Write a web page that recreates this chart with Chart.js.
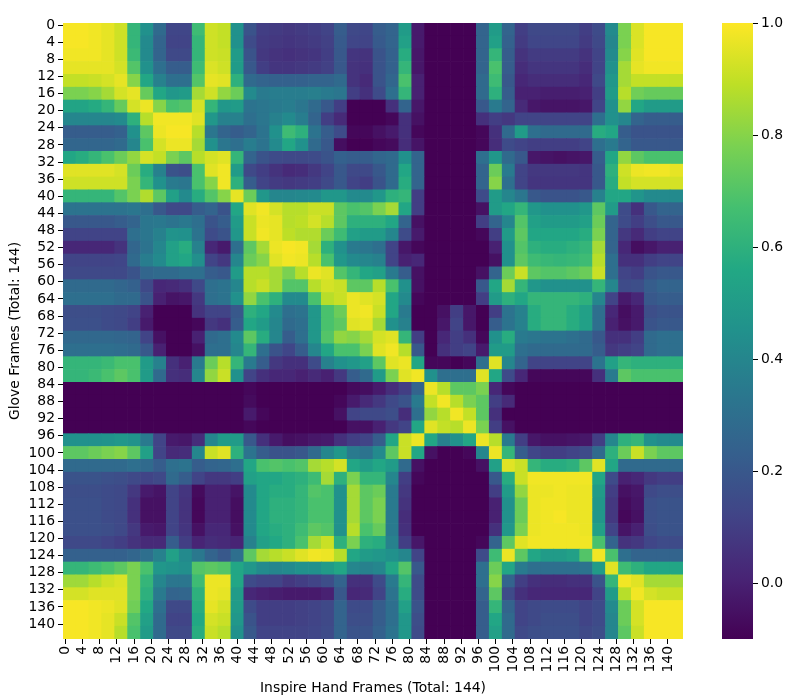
<!DOCTYPE html>
<html>
<head>
<meta charset="utf-8">
<script src="https://cdn.jsdelivr.net/npm/chart.js@4"></script>
<style>
  body { margin: 0; background: #fff; }
  canvas { position: absolute; top: 0; }
  #heatmap { left: 0; }
  #colorbar { left: 700px; }
</style>
</head>
<body>
<canvas id="heatmap" width="700" height="699"></canvas>
<canvas id="colorbar" width="97" height="699"></canvas>
<script>
// similarity, in hundredths, one row per 3 frames
const similarity = [
  [99,99,98,96,92,62,45,28,13,13,65,92,90,45, 18,10,9,8,9,10,12,22,14,13,22,25,50,-2, -10,-10,-10,-10, 25,50,25,10,14,14,14,14,10,15,42,78,94,99,99,99],
  [99,99,98,96,92,62,42,25,12,12,62,92,90,45, 15,9,8,7,8,9,11,21,13,12,21,25,52,-2, -10,-10,-10,-10, 25,52,24,9,13,13,13,13,9,14,40,78,94,99,99,99],
  [98,98,98,96,92,64,42,25,14,14,62,92,91,50, 18,8,6,5,6,7,10,20,7,6,18,24,58,-3, -10,-10,-10,-10, 25,62,22,6,9,9,9,9,6,12,42,80,95,99,99,99],
  [96,96,96,96,93,70,45,30,22,22,65,94,92,50, 20,10,7,7,8,9,11,20,6,5,18,24,62,-3, -10,-10,-10,-10, 25,68,22,4,7,7,7,7,4,12,45,85,96,98,98,98],
  [90,90,91,93,96,80,55,38,30,30,70,96,95,60, 28,25,24,24,24,25,25,28,6,3,18,26,68,0, -10,-10,-10,-10, 28,65,20,2,4,4,4,4,2,14,48,85,90,90,90,90],
  [78,78,80,85,93,96,74,55,48,50,85,92,82,75, 42,35,36,36,36,37,35,33,10,5,15,30,62,0, -10,-10,-10,-10, 28,60,22,0,0,-1,-1,-1,0,10,50,88,76,74,74,74],
  [54,54,57,62,74,93,97,80,68,70,93,62,48,50, 32,33,35,36,33,28,20,10,-10,-10,-10,5,25,-3, -10,-10,-10,-10, 20,35,25,3,-3,-4,-4,-4,-3,12,45,82,55,50,50,50],
  [40,40,40,40,42,60,88,98,98,98,95,48,38,38, 30,33,38,42,36,25,10,3,-10,-10,-10,-8,5,-5, -10,-10,-10,-10, 5,10,8,12,12,12,12,12,12,30,45,40,25,22,22,22],
  [22,22,22,22,24,45,72,97,99,99,88,33,25,22, 25,32,45,65,60,32,22,15,-8,-8,-5,-2,5,-8, -10,-10,-10,-10, -8,5,28,50,30,28,28,28,28,58,55,22,18,18,18,18],
  [26,26,26,26,28,40,68,93,97,97,85,45,33,30, 36,32,42,55,45,28,20,-6,-10,-10,-8,-7,4,-4, -10,-10,-10,-10, -8,4,15,12,10,10,10,10,12,30,35,25,20,20,20,20],
  [55,58,62,68,75,82,93,90,78,72,88,93,95,62, 25,18,15,14,14,15,18,24,22,22,26,28,45,25, -10,-10,-10,-10, 30,48,28,20,-3,-4,-5,-4,-3,22,55,82,72,68,68,68],
  [95,95,95,95,93,75,58,38,18,16,68,95,98,50, 14,10,6,3,4,8,12,20,14,14,20,28,55,25, -10,-10,-10,-10, 25,75,35,12,8,8,8,8,7,20,60,92,97,98,98,96],
  [92,92,92,92,92,78,62,45,35,33,68,80,98,60, 22,12,9,8,9,10,14,20,12,10,18,28,58,25, -10,-10,-10,-10, 25,80,30,12,7,7,7,7,7,20,58,90,93,93,93,93],
  [62,62,62,62,70,78,87,72,52,42,58,70,80,96, 75,48,40,40,41,42,48,48,42,42,48,60,62,10, -10,-10,-10,-10, 15,50,40,33,20,18,18,18,20,38,55,55,47,42,42,42],
  [32,32,32,32,32,33,30,20,14,14,22,25,18,55, 95,98,93,88,88,91,91,72,68,70,78,85,55,10, -10,-10,-10,-10, -5,50,55,62,48,45,45,45,48,72,50,15,5,20,25,25],
  [20,20,20,20,22,25,33,34,32,34,30,18,22,50, 91,97,96,88,89,93,88,72,60,60,60,55,25,-5, -10,-10,-10,-10, 10,25,40,70,52,50,50,50,52,75,25,15,10,16,20,20],
  [12,12,12,12,12,30,33,38,46,45,32,15,18,48, 91,98,96,89,87,87,75,65,52,50,50,40,15,-2, -10,-10,-10,-10, -8,10,50,72,55,55,55,55,58,78,25,8,3,10,12,12],
  [2,2,2,2,6,26,32,40,52,58,38,2,-2,30, 72,85,97,99,98,85,60,45,35,33,30,12,-3,-8, -10,-10,-10,-10, -10,0,45,70,60,58,58,60,62,85,25,2,-6,-3,0,0],
  [12,12,12,12,13,28,36,42,52,55,44,12,8,40, 75,80,95,98,97,88,68,48,42,40,38,12,0,2, -10,-10,-10,-10, -10,-5,45,72,65,63,62,63,65,88,30,5,5,10,12,12],
  [14,14,14,14,14,18,26,28,28,30,30,22,20,50, 88,88,85,78,88,97,95,70,62,55,52,35,22,-5, -10,-10,-10,-10, -5,25,75,91,72,70,70,72,75,91,30,12,10,18,20,20],
  [28,28,28,28,26,24,14,2,3,5,14,30,32,40, 88,91,85,70,70,88,93,91,72,72,88,68,45,-5, -10,-10,-10,-10, 20,55,85,62,48,45,45,45,45,62,40,15,16,22,25,25],
  [30,30,30,30,28,28,18,0,-4,-3,8,30,32,45, 82,68,60,42,42,68,88,91,97,95,93,55,42,-8, -10,-10,-10,-10, 10,50,60,55,62,62,62,62,60,40,12,-2,2,20,22,22],
  [16,16,16,15,14,12,0,-10,-10,-10,6,12,12,20, 60,55,42,30,32,48,68,75,97,98,91,55,35,-10, -10,-5,10,-3, -10,10,32,38,58,62,62,58,52,30,2,-6,-2,16,18,18],
  [17,17,17,15,14,10,-2,-10,-10,-10,-8,8,5,22, 55,50,40,28,30,48,68,72,95,96,85,45,38,-10, -10,-3,12,-3, -10,22,32,38,58,62,62,58,52,30,0,-5,-2,18,20,20],
  [27,27,27,27,26,25,12,-5,-10,-10,0,28,30,42, 72,58,40,22,30,48,70,82,80,85,93,95,62,10, -10,2,10,5, -8,45,58,35,33,32,32,30,28,20,5,5,10,28,30,30],
  [30,30,30,30,29,28,20,0,-10,-10,-5,30,30,40, 62,30,18,13,22,40,55,68,68,78,95,98,88,20, -10,5,10,12, -2,50,50,30,28,28,28,28,28,22,8,10,12,28,30,30],
  [62,62,62,64,68,68,50,38,5,0,35,75,88,62, 35,22,8,5,5,15,38,45,48,52,72,95,97,55, -8,-8,-10,-8, 30,95,40,25,12,12,12,12,12,32,52,62,60,60,60,60],
  [62,62,64,68,72,68,50,28,5,4,40,82,91,45, 12,5,2,2,0,3,0,8,22,28,50,78,95,98, 45,30,30,30, 95,55,15,2,-8,-8,-8,-8,-8,5,35,72,68,68,68,68],
  [-10,-10,-10,-10,-10,-10,-10,-10,-10,-10,-10,-10,-10,-10, -8,-10,-10,-10,-10,-10,-10,-10,-7,-6,-2,4,10,25, 97,88,72,72, 78,2,-8,-10,-10,-10,-10,-10,-10,-10,-10,-10,-10,-10,-10,-10],
  [-10,-10,-10,-10,-10,-10,-10,-10,-10,-10,-10,-10,-10,-10, -7,-10,-10,-10,-10,-10,-10,-8,-2,3,8,14,18,35, 90,98,88,78, 72,10,3,-10,-10,-10,-10,-10,-10,-10,-10,-10,-10,-10,-10,-10],
  [-10,-10,-10,-10,-10,-10,-10,-10,-10,-10,-10,-10,-10,-10, -2,-8,-10,-10,-10,-10,-10,-5,12,14,14,16,4,30, 82,88,98,90, 72,5,-10,-10,-10,-10,-10,-10,-10,-10,-10,-10,-10,-10,-10,-10],
  [-10,-10,-10,-10,-10,-10,-10,-10,-10,-10,-10,-10,-10,-10, -8,-10,-10,-10,-10,-10,-10,-10,-5,-5,0,8,12,55, 95,90,88,97, 78,10,-5,-10,-10,-10,-10,-10,-10,-10,-10,-10,-10,-10,-10,-10],
  [45,45,45,46,48,46,35,12,-2,-3,4,40,50,50, 20,5,-2,-6,-5,-3,-2,5,10,12,22,55,91,97, 55,38,45,55, 97,88,35,10,-3,-5,-5,-4,-3,10,40,60,62,45,42,42],
  [72,72,75,78,80,72,52,12,3,4,40,91,95,60, 32,22,18,18,20,28,40,48,35,32,42,72,91,55, -5,-10,-10,-8, 40,97,62,22,13,10,10,12,15,28,60,75,91,78,72,72],
  [28,28,28,28,28,30,28,22,30,32,22,25,26,30, 55,68,70,68,70,85,88,93,55,50,55,50,28,-5, -10,-10,-10,-10, -5,52,95,91,62,58,58,60,72,95,55,28,28,28,28,28],
  [18,18,18,17,16,14,12,14,28,22,12,8,8,10, 52,55,55,58,60,65,85,60,78,62,62,40,10,-8, -10,-10,-10,-10, -10,20,58,91,98,98,98,98,98,55,15,0,2,8,10,10],
  [16,16,16,15,14,8,-2,-4,12,7,-7,0,0,-4, 42,55,58,58,62,70,68,45,85,72,75,35,8,-10, -10,-10,-10,-10, -10,10,50,82,97,97,98,97,97,50,10,-5,-3,14,16,16],
  [17,17,17,15,14,5,-5,-5,12,6,-8,0,0,-6, 42,55,60,60,62,68,68,45,85,72,78,35,6,-10, -10,-10,-10,-10, -10,0,45,75,97,98,98,97,97,48,8,-7,-4,17,18,18],
  [17,17,17,15,14,5,-5,-5,12,6,-8,0,0,-6, 42,55,60,60,62,68,68,45,85,72,78,35,4,-10, -10,-10,-10,-10, -10,0,45,75,97,98,99,97,97,48,8,-8,-5,17,18,18],
  [17,17,17,16,14,8,-2,-3,12,7,-5,2,2,-5, 42,55,58,60,65,72,70,45,88,68,74,35,5,-10, -10,-10,-10,-10, -10,5,48,78,97,98,98,98,97,52,12,-4,0,16,18,18],
  [14,14,14,12,10,6,3,3,22,10,1,4,3,1, 38,52,56,60,68,85,91,60,78,60,58,38,10,-3, -10,-10,-10,-10, -8,25,72,95,98,98,98,98,98,68,25,6,8,13,15,15],
  [24,24,24,24,24,26,30,38,52,42,34,25,20,30, 72,85,88,91,95,98,97,88,55,50,48,45,40,12, -10,-10,-10,-10, 15,65,97,72,55,50,50,52,70,98,68,30,25,25,25,25],
  [62,62,65,68,72,78,68,48,46,44,70,72,70,55, 48,42,40,42,45,45,50,55,40,38,40,55,70,20, -10,-10,-10,-10, 30,75,55,35,30,30,30,30,32,50,95,65,60,55,55,55],
  [84,84,88,92,94,78,62,40,33,33,65,97,97,55, 15,12,12,8,10,12,16,25,5,5,15,35,62,15, -10,-10,-10,-10, 30,80,25,10,5,4,4,5,5,18,62,98,95,85,85,85],
  [93,93,95,95,95,78,60,35,25,26,60,97,96,50, 2,0,-1,-2,-2,-2,0,20,2,3,12,32,58,15, -10,-10,-10,-10, 25,72,15,5,2,2,2,2,2,12,50,88,98,93,91,91],
  [99,99,98,97,95,76,56,30,14,14,58,96,93,50, 15,10,10,10,11,12,14,25,15,15,22,30,52,18, -10,-10,-10,-10, 22,62,25,12,14,15,15,15,12,15,42,75,93,99,99,99],
  [99,99,98,96,91,70,52,28,12,12,56,93,91,48, 18,10,10,10,11,12,14,25,16,16,22,30,48,16, -10,-10,-10,-10, 22,55,28,12,14,16,16,16,12,15,40,75,93,99,99,99],
  [99,99,98,96,88,68,50,28,14,14,58,91,88,45, 20,12,12,12,12,13,15,25,18,18,24,32,48,15, -10,-10,-10,-10, 22,52,28,14,16,17,17,17,14,16,40,72,91,99,99,99]
];
const frameTicks = [0,4,8,12,16,20,24,28,32,36,40,44,48,52,56,60,64,68,72,76,80,84,88,92,96,100,104,108,112,116,120,124,128,132,136,140];
const colorbarTicks = [0, 0.2, 0.4, 0.6, 0.8, 1];
const viridis = ['#440154','#482475','#414487','#355f8d','#2a788e','#21918c','#22a884','#44bf70','#7ad151','#bddf26','#fde725'];

const vmin = -0.1;
const vmax = 1;
const cellFrames = 3;
const totalFrames = 144;
const tickFont = { family: '"DejaVu Sans"', size: 13.9 };

function hexToRgb(hex) {
    return [1, 3, 5].map(i => parseInt(hex.slice(i, i + 2), 16));
}

function colorFor(value) {
    const t = Math.min(1, Math.max(0, (value - vmin) / (vmax - vmin))) * (viridis.length - 1);
    const i = Math.min(viridis.length - 2, Math.floor(t));
    const a = hexToRgb(viridis[i]);
    const b = hexToRgb(viridis[i + 1]);
    const mix = a.map((v, k) => Math.round(v + (b[k] - v) * (t - i)));
    return `rgb(${mix[0]},${mix[1]},${mix[2]})`;
}

const cells = [];
similarity.forEach((row, r) => {
    row.forEach((v, c) => {
        cells.push({
            x: c * cellFrames + cellFrames / 2,
            y: [r * cellFrames, (r + 1) * cellFrames],
            v: v / 100
        });
    });
});

function frameAxis(extra) {
    return Object.assign({
        type: 'linear',
        min: 0,
        max: totalFrames,
        offset: false,
        border: { display: false },
        grid: { offset: false, drawOnChartArea: false, tickLength: 5, tickColor: '#000', tickWidth: 1 },
        afterBuildTicks: function (scale) {
            scale.ticks = frameTicks.map(f => ({ value: f + 0.5 }));
        }
    }, extra);
}

new Chart(document.getElementById('heatmap'), {
    type: 'bar',
    data: {
        datasets: [{
            data: cells,
            backgroundColor: ctx => colorFor(ctx.raw.v),
            borderWidth: 0,
            barPercentage: 1,
            categoryPercentage: 1
        }]
    },
    options: {
        responsive: false,
        animation: false,
        layout: { padding: { top: 23, right: 17, left: 0, bottom: 0 } },
        plugins: { legend: { display: false }, tooltip: { enabled: false } },
        scales: {
            x: frameAxis({
                ticks: {
                    autoSkip: false, minRotation: 90, maxRotation: 90, padding: 2,
                    color: '#000', font: tickFont,
                    callback: v => String(v - 0.5)
                },
                title: {
                    display: true, text: 'Inspire Hand Frames (Total: 144)',
                    color: '#000', font: tickFont, padding: { top: 0, bottom: 2 }
                },
                afterFit: function (scale) { scale.height = 60; }
            }),
            y: frameAxis({
                reverse: true,
                ticks: {
                    autoSkip: false, padding: 3,
                    color: '#000', font: tickFont,
                    callback: v => String(v - 0.5)
                },
                title: {
                    display: true, text: 'Glove Frames (Total: 144)',
                    color: '#000', font: tickFont, padding: { top: 7, bottom: 0 }
                },
                afterFit: function (scale) { scale.width = 63; }
            })
        }
    }
});

new Chart(document.getElementById('colorbar'), {
    type: 'bar',
    data: {
        labels: [''],
        datasets: [{
            data: [[vmin, vmax]],
            backgroundColor: function (ctx) {
                const area = ctx.chart.chartArea;
                if (!area) return viridis[0];
                const g = ctx.chart.ctx.createLinearGradient(0, area.bottom, 0, area.top);
                viridis.forEach((c, i) => g.addColorStop(i / (viridis.length - 1), c));
                return g;
            },
            borderWidth: 0,
            barPercentage: 1,
            categoryPercentage: 1
        }]
    },
    options: {
        responsive: false,
        animation: false,
        layout: { padding: { top: 23, bottom: 60, left: 22, right: 0 } },
        plugins: { legend: { display: false }, tooltip: { enabled: false } },
        scales: {
            x: { display: false },
            y: {
                position: 'right',
                min: vmin,
                max: vmax,
                border: { display: false },
                grid: { drawOnChartArea: false, tickLength: 5, tickColor: '#000', tickWidth: 1 },
                ticks: { padding: 3, color: '#000', font: tickFont, callback: v => v.toFixed(1) },
                afterBuildTicks: function (scale) {
                    scale.ticks = colorbarTicks.map(v => ({ value: v }));
                },
                afterFit: function (scale) { scale.width = 44; }
            }
        }
    }
});
</script>
</body>
</html>
